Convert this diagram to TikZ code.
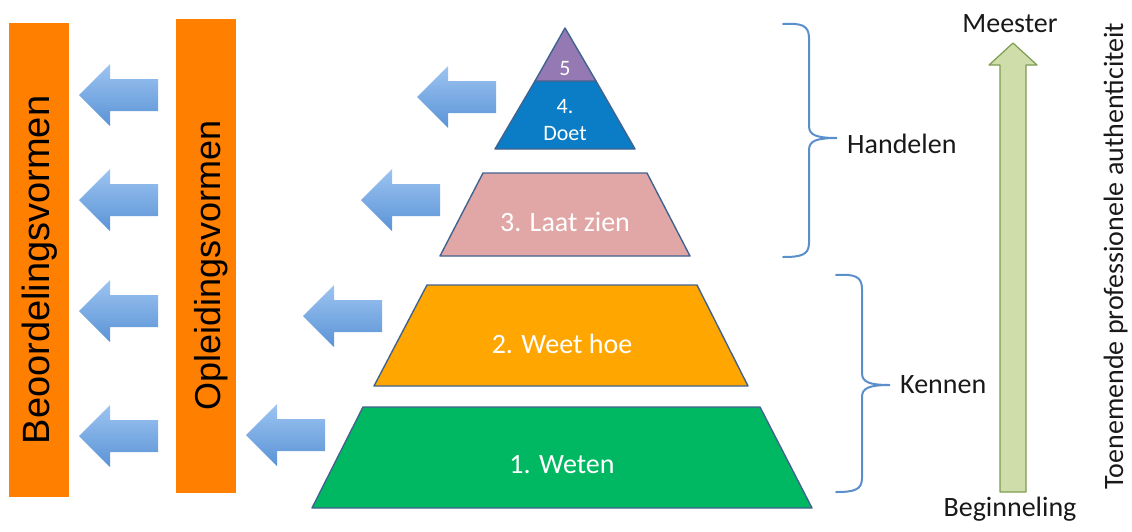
\documentclass[tikz,border=0pt]{standalone}
\usepackage{fontspec}
\setmainfont{Carlito}
\newfontfamily\barfont{Liberation Sans}
\usetikzlibrary{calc}

\definecolor{barorange}{HTML}{FF7F00}
\definecolor{arrowtop}{HTML}{9DC4F1}
\definecolor{arrowbot}{HTML}{5A93D6}
\definecolor{layerline}{HTML}{41638F}
\definecolor{toppurple}{HTML}{9579B3}
\definecolor{doetblue}{HTML}{0A7DC6}
\definecolor{laatpink}{HTML}{E0A7A6}
\definecolor{weetorange}{HTML}{FFA600}
\definecolor{wetengreen}{HTML}{00B862}
\definecolor{bracecol}{HTML}{5B8FCB}
\definecolor{growfill}{HTML}{CFDDAA}
\definecolor{growline}{HTML}{7F9B50}

\tikzset{
  layer/.style={draw=layerline, line width=1.4pt, line join=round},
  lbl/.style={text=white, font=\fontsize{28}{34}\selectfont},
  toplbl/.style={text=white, font=\fontsize{22}{27}\selectfont, align=center},
  side/.style={text=black!90, font=\fontsize{28}{34}\selectfont, inner sep=0pt},
  bartext/.style={rotate=90, anchor=base, inner sep=0pt, font=\barfont\fontsize{#1}{#1}\selectfont},
  bar/.style={fill=barorange, minimum width=60pt, minimum height=474pt, inner sep=0pt},
  brace/.style={draw=bracecol, line width=2pt, line cap=round},
  pics/leftarrow/.style={code={
    \shade[top color=arrowtop, bottom color=arrowbot]
      (0,0) -- (31,-31) -- (31,-16) -- (79,-16) -- (79,16) -- (31,16) -- (31,31) -- cycle;
  }}
}

\begin{document}
\begin{tikzpicture}[x=1pt,y=-1pt]
\useasboundingbox (0,0) rectangle (1132,531);

% orange bars
\node[bar] (beoordeling) at (39,260) {};
\node[bar] (opleiding) at (206,256) {};
\node[bartext=38] (beoortxt) at (49,270) {Beoordelingsvormen};
\node[bartext=36] (opletxt) at (220,265) {Opleidingsvormen};

% arrows
\foreach \ty in {95,200,311,436}
  \pic at (79,\ty) {leftarrow};
\foreach \tx/\ty in {417/97,361/200,303/316,246/435}
  \pic at (\tx,\ty) {leftarrow};

% pyramid
\filldraw[layer, fill=wetengreen] (363,407) -- (760,407) -- (812,508) -- (312,508) -- cycle;
\filldraw[layer, fill=weetorange] (427,285) -- (697,285) -- (748,386) -- (374,386) -- cycle;
\filldraw[layer, fill=laatpink] (483,173) -- (647,173) -- (690,256) -- (440,256) -- cycle;
\filldraw[layer, fill=doetblue] (535,81) -- (596,81) -- (635,149) -- (495,149) -- cycle;
\filldraw[layer, fill=toppurple] (565,28) -- (596,81) -- (535,81) -- cycle;

\node[lbl] (weten) at (562,465) {1. Weten};
\node[lbl] (weethoe) at (562,344) {2. Weet hoe};
\node[lbl] (laatzien) at (565,222) {3. Laat zien};
\node[toplbl] (doet) at (565,120) {4.\\Doet};
\node[toplbl] (vijf) at (565,69) {5};

% braces
\coordinate (handtip) at (837,138);
\coordinate (kentip) at (890,385);
\draw[brace] (783,24) .. controls (801,23) and (809,25) .. (809,38) -- (809,126)
  .. controls (809,135) and (816,138) .. (handtip)
  .. controls (816,138) and (809,141) .. (809,150) -- (809,243)
  .. controls (809,255) and (801,257) .. (783,257);
\draw[brace] (836,275) .. controls (854,274) and (862,276) .. (862,289) -- (862,373)
  .. controls (862,382) and (869,385) .. (kentip)
  .. controls (869,385) and (862,388) .. (862,397) -- (862,478)
  .. controls (862,490) and (854,492) .. (836,492);
\node[side, anchor=base west] (handelen) at (847,153) {Handelen};
\node[side, anchor=base west] (kennen) at (900,393) {Kennen};

% growth arrow
\filldraw[fill=growfill, draw=growline, line width=1.2pt, line join=round]
  (1000,492) -- (1000,65) -- (989,65) -- (1013,43) -- (1037,65) -- (1026,65) -- (1026,492) -- cycle;
\node[side, anchor=base] (meester) at (1010,32) {Meester};
\node[side, anchor=base] (beginneling) at (1010,516) {Beginneling};
\node[side, rotate=90, anchor=base] (authentiek) at (1123,256) {Toenemende professionele authenticiteit};
\end{tikzpicture}
\end{document}
